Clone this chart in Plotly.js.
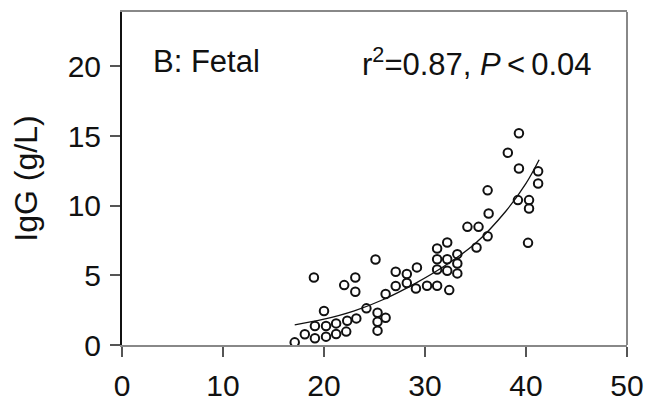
<!DOCTYPE html>
<html><head><meta charset="utf-8">
<script src="https://cdn.plot.ly/plotly-3.0.1.min.js"></script>
<style>html,body{margin:0;padding:0;background:#fff}#chart{width:647px;height:401px}</style>
</head><body><div id="chart"></div>
<script>
// Scatter: gestational age (weeks) vs fetal IgG (g/L)
const pointX = [17.1,18.1,19.1,19.0,20.0,19.1,20.2,20.2,21.2,21.2,22.2,22.3,23.2,22.0,23.1,23.1,24.2,25.1,25.3,25.3,25.3,26.1,26.1,27.1,27.1,28.2,28.2,29.2,29.1,30.2,31.2,31.2,31.2,31.2,32.2,32.2,32.2,32.4,33.2,33.2,33.2,34.2,35.3,35.1,36.2,36.3,36.2,38.2,39.3,39.3,39.2,40.3,40.3,40.2,41.2,41.2];
const pointY = [0.19,0.77,0.48,4.85,2.44,1.36,1.36,0.6,1.55,0.79,0.96,1.74,1.91,4.3,4.85,3.82,2.63,6.14,2.32,1.67,1.03,1.96,3.66,5.26,4.23,5.09,4.45,5.57,4.06,4.25,4.25,6.93,6.16,5.42,7.36,6.16,5.33,3.94,6.52,5.85,5.14,8.48,8.48,7.0,11.1,9.44,7.81,13.8,15.2,12.67,10.4,10.4,9.8,7.33,12.47,11.59];
// Fitted curve
const fitX = [17.1,20,23,26,29,32,35,38,40,41.3];
const fitY = [1.45,1.85,2.45,3.3,4.4,5.7,7.3,9.6,11.6,13.3];
const xTicks = [0,10,20,30,40,50];
const yTicks = [0,5,10,15,20];
const panelLabel = "B: Fetal";
const statsLabel = "r<sup>2</sup>=0.87, <i>P</i>\u2009&lt;\u20090.04";
const yTitle = "IgG (g/L)";

const font = "Liberation Sans, Arial, Helvetica, sans-serif";
const traces = [
  {x: fitX, y: fitY, mode: "lines", type: "scatter", line: {color: "#111", width: 1.3, shape: "spline"}, hoverinfo: "skip"},
  {x: pointX, y: pointY, mode: "markers", type: "scatter",
   marker: {symbol: "circle-open", size: 8.5, color: "#111", line: {width: 2, color: "#111"}}}
];
const layout = {
  width: 647, height: 401,
  margin: {l: 122, r: 20, t: 12, b: 56},
  paper_bgcolor: "#fff", plot_bgcolor: "#fff",
  showlegend: false,
  font: {family: font, color: "#111", size: 30},
  xaxis: {range: [0, 50], tickvals: xTicks, ticktext: xTicks.map(String),
    showgrid: false, zeroline: false, showline: true, linecolor: "#888", linewidth: 2, mirror: true,
    ticks: "outside", ticklen: 10, tickwidth: 2, tickcolor: "#555", ticklabelstandoff: 3,
    tickfont: {family: font, size: 30, color: "#111"}},
  yaxis: {range: [0, 23.9], tickvals: yTicks, ticktext: yTicks.map(String),
    showgrid: false, zeroline: false, showline: true, linecolor: "#111", linewidth: 2,
    ticks: "outside", ticklen: 10, tickwidth: 2, tickcolor: "#555", ticklabelstandoff: 3,
    tickfont: {family: font, size: 30, color: "#111"},
    title: {text: yTitle, font: {family: font, size: 32, color: "#111"}, standoff: 20}},
  shapes: [{type: "line", xref: "paper", yref: "paper", x0: 1, x1: 1, y0: 0, y1: 1, line: {color: "#888", width: 2}}],
  annotations: [
    {xref: "paper", yref: "paper", x: 0.057, y: 0.85, xanchor: "left", yanchor: "middle", showarrow: false,
     text: panelLabel, font: {family: font, size: 31, color: "#111"}},
    {xref: "paper", yref: "paper", x: 0.935, y: 0.85, xanchor: "right", yanchor: "middle", showarrow: false,
     text: statsLabel, font: {family: font, size: 31, color: "#111"}}
  ]
};
Plotly.newPlot("chart", traces, layout, {displayModeBar: false, staticPlot: true});
</script></body></html>
